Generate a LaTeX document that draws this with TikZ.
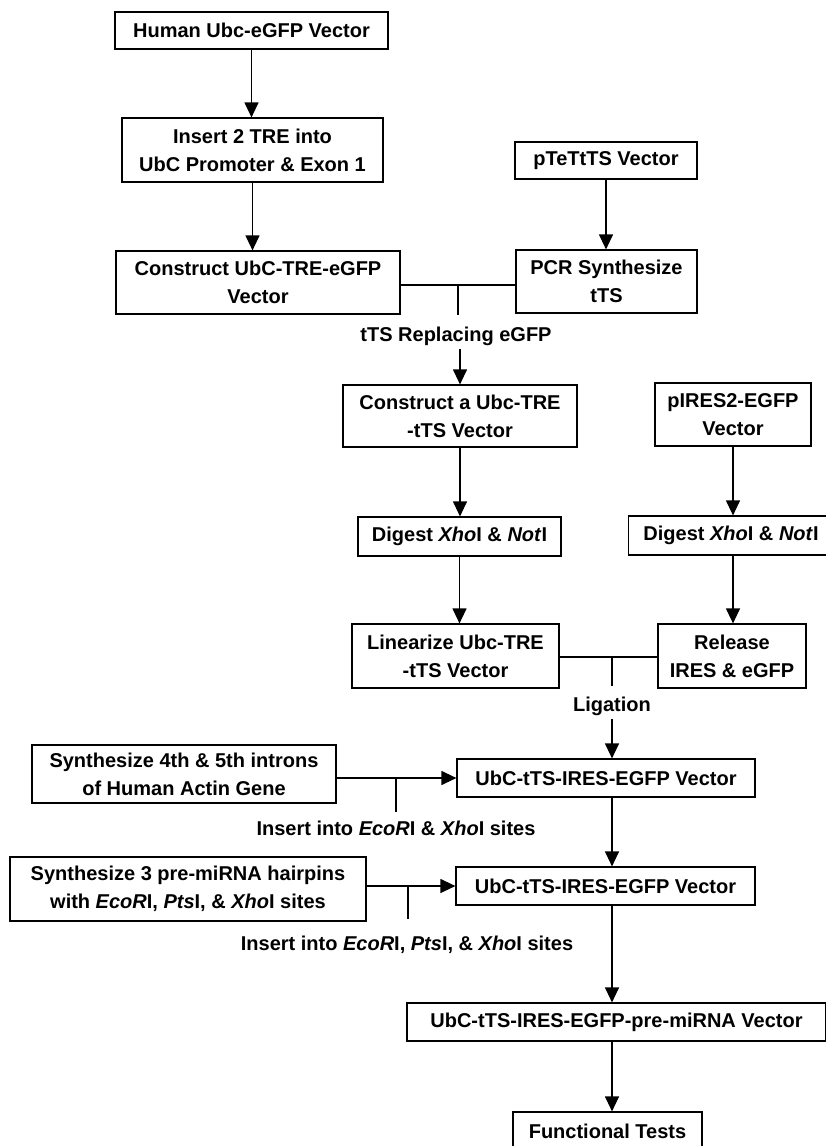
\documentclass[tikz,border=0pt]{standalone}
\usepackage{fontspec}
\setmainfont{Liberation Sans}
\usepackage{tikz}
\usetikzlibrary{arrows.meta}

\begin{document}
\begin{tikzpicture}[x=1pt,y=-1pt,
        box/.style={draw,line width=1.2pt,align=center,inner sep=0pt,
                    font=\bfseries\fontsize{20}{28}\selectfont},
        arr/.style={line width=1.2pt,-{Triangle[length=15pt,width=14pt]}},
        link/.style={line width=1.2pt},
        lbl/.style={inner sep=3pt,font=\bfseries\fontsize{20}{24}\selectfont}]
            \useasboundingbox (0,0) rectangle (825,1146);
            % upper part
            \node [box, minimum width=273pt, minimum height=37pt] (hum) at (251.5,30.5) {Human Ubc-eGFP Vector};
            \node [box, minimum width=261pt, minimum height=64pt] (ins) at (252.5,150) {Insert 2 TRE into\\UbC Promoter \& Exon 1};
            \node [box, minimum width=284pt, minimum height=63pt] (con) at (258,282.5) {Construct UbC-TRE-eGFP\\Vector};
            \node [box, minimum width=182pt, minimum height=37pt] (ptet) at (606,160.5) {pTeTtTS Vector};
            \node [box, minimum width=181pt, minimum height=63pt] (pcr) at (606.5,281.5) {PCR Synthesize\\tTS};
            \draw [arr] (hum.south) -- (hum.south |- ins.north);
            \draw [arr] (ins.south) -- (ins.south |- con.north);
            \draw [arr] (ptet.south) -- (ptet.south |- pcr.north);
            \coordinate (j1) at (458,285);
            \draw [link] (con.east |- j1) -- (pcr.west |- j1);
            \draw [link] (j1) -- ++(0,30);
            \node [lbl] (rep) at (456,336) {tTS Replacing eGFP};
            % middle part
            \node [box, minimum width=234pt, minimum height=62pt] (ctt) at (460,416) {Construct a Ubc-TRE\\-tTS Vector};
            \node [box, minimum width=156pt, minimum height=63pt] (pir) at (733,414.5) {pIRES2-EGFP\\Vector};
            \node [box, minimum width=203pt, minimum height=39pt] (dg1) at (459.5,536.5) {Digest \textit{Xho}I \& \textit{Not}I};
            \node [box, minimum width=205pt, minimum height=39pt] (dg2) at (731,535.5) {Digest \textit{Xho}I \& \textit{Not}I};
            \node [box, minimum width=207pt, minimum height=64pt] (lin) at (455.5,656) {Linearize Ubc-TRE\\-tTS Vector};
            \node [box, minimum width=148pt, minimum height=64pt] (rel) at (732,656) {Release\\IRES \& eGFP};
            \draw [arr] (ctt.north |- rep.south) -- (ctt.north);
            \draw [arr] (ctt.south) -- (ctt.south |- dg1.north);
            \draw [arr] (dg1.south) -- (dg1.south |- lin.north);
            \draw [arr] (pir.south) -- (pir.south |- dg2.north);
            \draw [arr] (pir.south |- dg2.south) -- (pir.south |- rel.north);
            \coordinate (j2) at (612,657);
            \draw [link] (lin.east |- j2) -- (rel.west |- j2);
            \draw [link] (j2) -- ++(0,29);
            \node [lbl] (lig) at (612,706) {Ligation};
            % lower part
            \node [box, minimum width=298pt, minimum height=38pt] (ub1) at (606,778) {UbC-tTS-IRES-EGFP Vector};
            \node [box, minimum width=304pt, minimum height=58pt] (syn1) at (184,774) {Synthesize 4th \& 5th introns\\of Human Actin Gene};
            \node [box, minimum width=299pt, minimum height=38pt] (ub2) at (605.5,886) {UbC-tTS-IRES-EGFP Vector};
            \node [box, minimum width=356pt, minimum height=64pt] (syn2) at (188,889) {Synthesize 3 pre-miRNA hairpins\\with \textit{EcoR}I, \textit{Pts}I, \& \textit{Xho}I sites};
            \node [box, minimum width=419pt, minimum height=38pt] (fin) at (616.5,1022) {UbC-tTS-IRES-EGFP-pre-miRNA Vector};
            \node [box, minimum width=189pt, minimum height=38pt] (fun) at (607.5,1131) {Functional Tests};
            \draw [arr] (j2 |- lig.south) -- (j2 |- ub1.north);
            \draw [arr] (syn1.east |- ub1.west) -- (ub1.west);
            \coordinate (j3) at (396,778);
            \draw [link] (j3) -- ++(0,34);
            \node [lbl] (ins1) at (396,828) {Insert into \textit{EcoR}I \& \textit{Xho}I sites};
            \draw [arr] (j2 |- ub1.south) -- (j2 |- ub2.north);
            \draw [arr] (syn2.east |- ub2.west) -- (ub2.west);
            \coordinate (j4) at (408,886);
            \draw [link] (j4) -- ++(0,33);
            \node [lbl] (ins2) at (407,945) {Insert into \textit{EcoR}I, \textit{Pts}I, \& \textit{Xho}I sites};
            \draw [arr] (j2 |- ub2.south) -- (j2 |- fin.north);
            \draw [arr] (j2 |- fin.south) -- (j2 |- fun.north);
        \end{tikzpicture}
\end{document}
